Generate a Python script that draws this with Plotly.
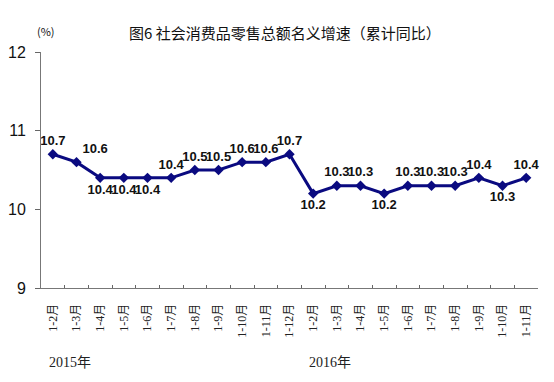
import plotly.graph_objects as go

months = ["1-2月", "1-3月", "1-4月", "1-5月", "1-6月", "1-7月", "1-8月", "1-9月", "1-10月", "1-11月", "1-12月",
          "1-2月", "1-3月", "1-4月", "1-5月", "1-6月", "1-7月", "1-8月", "1-9月", "1-10月", "1-11月"]
years = ["2015"] * 11 + ["2016"] * 10
values = [10.7, 10.6, 10.4, 10.4, 10.4, 10.4, 10.5, 10.5, 10.6, 10.6, 10.7,
          10.2, 10.3, 10.3, 10.2, 10.3, 10.3, 10.3, 10.4, 10.3, 10.4]
label_pos = ["top center", "top right", "bottom center", "bottom center", "bottom center", "top center",
             "top center", "top center", "top center", "top center", "top center",
             "bottom center", "top center", "top center", "bottom center", "top center", "top center",
             "top center", "top center", "bottom center", "top center"]

cats = [y + " " + m for y, m in zip(years, months)]

# page body has an 8px margin; figure sized/offset to compensate
OFF = 8
W, H = 538, 366
l, r, t, b = 33, 8, 44, 86
pw, ph = W - l - r, H - t - b


def px(x, y):
    # window pixel coords -> paper coords
    return (x - OFF - l) / pw, (H - (y - OFF) - b) / ph


fig = go.Figure()
fig.add_trace(go.Scatter(
    x=cats, y=values, mode="lines+markers+text",
    line=dict(color="#0a0a80", width=3),
    marker=dict(symbol="diamond", size=8, color="#0a0a80"),
    text=[f"{v:.1f}" for v in values], textposition=label_pos,
    textfont=dict(family="Liberation Sans, Arial", size=13, color="#111111", weight="bold"),
    cliponaxis=False, hoverinfo="skip",
))

ann = []
for text, x, y, font in [
    ("图6 社会消费品零售总额名义增速（累计同比）", 285, 32, dict(family="Noto Sans CJK SC", size=15, color="#111")),
    ("(%)", 46, 31, dict(family="Noto Sans CJK SC", size=11, color="#111")),
    ("2015年", 70, 362, dict(family="Liberation Serif, Noto Sans CJK SC", size=14, color="#222")),
    ("2016年", 330, 362, dict(family="Liberation Serif, Noto Sans CJK SC", size=14, color="#222")),
]:
    ax, ay = px(x, y)
    ann.append(dict(text=text, x=ax, y=ay, xref="paper", yref="paper", xanchor="center", yanchor="middle",
                    showarrow=False, font=font))

fig.update_layout(
    width=W, height=H,
    margin=dict(l=l, r=r, t=t, b=b),
    paper_bgcolor="white", plot_bgcolor="white",
    showlegend=False,
    xaxis=dict(
        type="category", tickmode="array", tickvals=cats, ticktext=months, automargin=False,
        tickangle=-90, tickson="boundaries", ticks="inside", ticklen=3, tickcolor="#666",
        showline=True, linecolor="#777", linewidth=1, showgrid=False, zeroline=False,
        tickfont=dict(family="Liberation Serif, Noto Sans CJK SC", size=12, color="#222"),
        ticklabelstandoff=10,
        range=[-0.5, len(cats) - 0.5],
    ),
    yaxis=dict(
        range=[9, 12], tickvals=[9, 10, 11, 12], ticks="outside", ticklen=5, tickcolor="#666",
        automargin=False,
        showline=True, linecolor="#777", linewidth=1, showgrid=False, zeroline=False,
        tickfont=dict(family="Liberation Sans, Arial", size=16, color="#111"),
        ticklabelstandoff=6,
    ),
    annotations=ann,
)

fig.write_html("out.html")
